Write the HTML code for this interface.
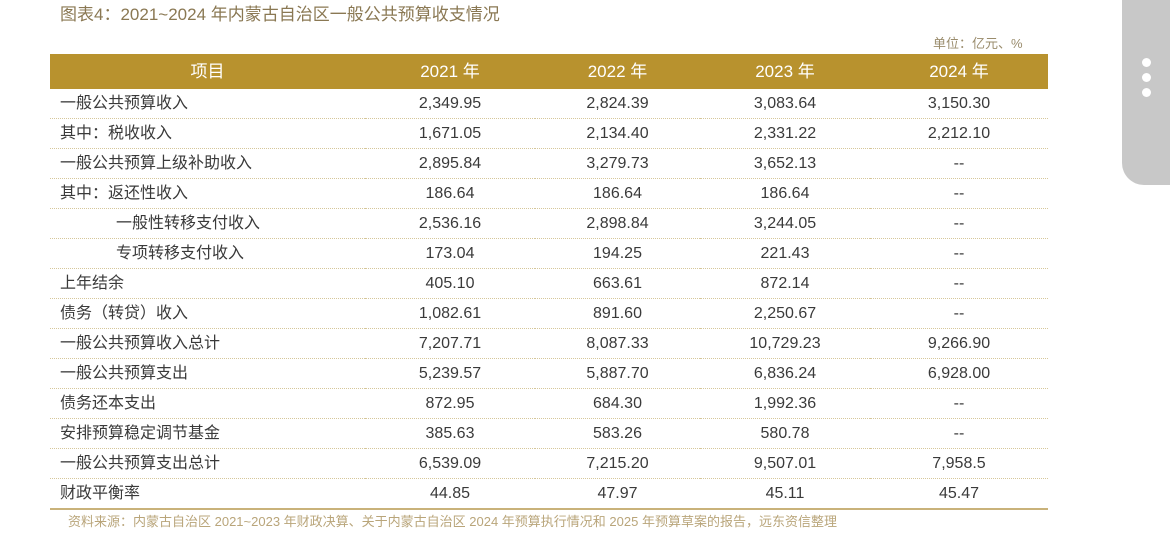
<!DOCTYPE html>
<html><head><meta charset="utf-8"><style>
html,body{margin:0;padding:0;background:#fff;width:1170px;height:538px;overflow:hidden;position:relative;font-family:"Liberation Sans","Noto Sans CJK SC",sans-serif;}
.title{position:absolute;left:60px;top:3px;font-size:17px;color:#8a7853;line-height:24px;}
.unit{position:absolute;left:933px;top:35px;font-size:13px;color:#9a8c6c;line-height:18px;}
table{position:absolute;left:50px;top:54px;width:998px;border-collapse:collapse;font-size:16px;color:#3a3a3a;}
th{background:#b8922e;color:#fff;font-weight:normal;height:35px;line-height:35px;padding:0;font-size:17px;vertical-align:middle;}
td{height:29px;line-height:29px;padding:0;text-align:center;vertical-align:middle;border-bottom:1px dotted #d6c79a;}
td.l{text-align:left;padding-left:10px;}
td.i{padding-left:66px;}
tr:last-child td{border-bottom:2px solid #c9b27a;}
.src{position:absolute;left:68px;top:513px;font-size:13px;color:#b9a57a;line-height:18px;}
.panel{position:absolute;left:1122px;top:0;width:60px;height:185px;background:#c8c8c8;border-bottom-left-radius:22px;}
.dot{position:absolute;left:1142px;width:9px;height:9px;border-radius:50%;background:#fff;}
</style></head><body>
<div class="title">图表4：2021~2024 年内蒙古自治区一般公共预算收支情况</div>
<div class="unit">单位：亿元、%</div>
<table>
<colgroup><col style="width:315px"><col style="width:170px"><col style="width:165px"><col style="width:170px"><col style="width:178px"></colgroup>
<tr><th>项目</th><th>2021 年</th><th>2022 年</th><th>2023 年</th><th>2024 年</th></tr>
<tr><td class="l">一般公共预算收入</td><td>2,349.95</td><td>2,824.39</td><td>3,083.64</td><td>3,150.30</td></tr>
<tr><td class="l">其中：税收收入</td><td>1,671.05</td><td>2,134.40</td><td>2,331.22</td><td>2,212.10</td></tr>
<tr><td class="l">一般公共预算上级补助收入</td><td>2,895.84</td><td>3,279.73</td><td>3,652.13</td><td>--</td></tr>
<tr><td class="l">其中：返还性收入</td><td>186.64</td><td>186.64</td><td>186.64</td><td>--</td></tr>
<tr><td class="l i">一般性转移支付收入</td><td>2,536.16</td><td>2,898.84</td><td>3,244.05</td><td>--</td></tr>
<tr><td class="l i">专项转移支付收入</td><td>173.04</td><td>194.25</td><td>221.43</td><td>--</td></tr>
<tr><td class="l">上年结余</td><td>405.10</td><td>663.61</td><td>872.14</td><td>--</td></tr>
<tr><td class="l">债务（转贷）收入</td><td>1,082.61</td><td>891.60</td><td>2,250.67</td><td>--</td></tr>
<tr><td class="l">一般公共预算收入总计</td><td>7,207.71</td><td>8,087.33</td><td>10,729.23</td><td>9,266.90</td></tr>
<tr><td class="l">一般公共预算支出</td><td>5,239.57</td><td>5,887.70</td><td>6,836.24</td><td>6,928.00</td></tr>
<tr><td class="l">债务还本支出</td><td>872.95</td><td>684.30</td><td>1,992.36</td><td>--</td></tr>
<tr><td class="l">安排预算稳定调节基金</td><td>385.63</td><td>583.26</td><td>580.78</td><td>--</td></tr>
<tr><td class="l">一般公共预算支出总计</td><td>6,539.09</td><td>7,215.20</td><td>9,507.01</td><td>7,958.5</td></tr>
<tr><td class="l">财政平衡率</td><td>44.85</td><td>47.97</td><td>45.11</td><td>45.47</td></tr>
</table>
<div class="src">资料来源：内蒙古自治区 2021~2023 年财政决算、关于内蒙古自治区 2024 年预算执行情况和 2025 年预算草案的报告，远东资信整理</div>
<div class="panel"></div>
<div class="dot" style="top:58px"></div>
<div class="dot" style="top:73px"></div>
<div class="dot" style="top:88px"></div>
</body></html>
